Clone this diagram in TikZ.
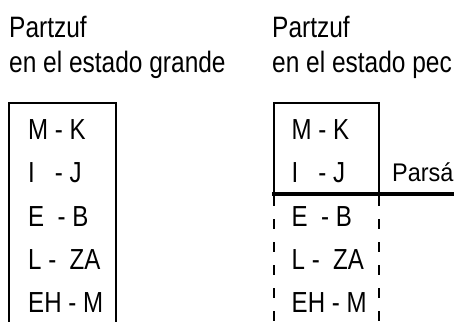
\documentclass[tikz,border=0pt]{standalone}
\usepackage{fontspec}
\setmainfont{Liberation Sans}
\newcommand{\nar}[1]{\scalebox{0.83}[1]{#1}}
\newcommand{\sd}[1]{\scalebox{0.92}[1]{#1}}
\begin{document}
\begin{tikzpicture}[x=1bp,y=-1bp,
  titletext/.style={anchor=base west,inner sep=0pt,font=\fontsize{29.5bp}{36bp}\selectfont},
  rowtext/.style={anchor=base west,inner sep=0pt,font=\fontsize{29bp}{34bp}\selectfont},
  sidetext/.style={anchor=base west,inner sep=0pt,font=\fontsize{25.5bp}{30bp}\selectfont},
  boxline/.style={line width=2bp},
  cutline/.style={line width=4bp},
  dashline/.style={line width=2bp,dash pattern=on 10bp off 13bp}]
\useasboundingbox (0,0) rectangle (454,321);
\clip (0,0) rectangle (454,321);
% titles
\node[titletext] (t1a) at (9,37.5) {\nar{Partzuf}};
\node[titletext] (t1b) at (9,72.7) {\nar{en el estado grande}};
\node[titletext] (t2a) at (272,37.5) {\nar{Partzuf}};
\node[titletext] (t2b) at (272,72.7) {\nar{en el estado pec}};
% left box
\draw[boxline] (9,330) -- (9,103.3) -- (115.7,103.3) -- (115.7,330);
\node[rowtext] (l1) at (28,139.5) {\nar{M - K}};
\node[rowtext] (l2) at (28,182.8) {\nar{I\ \ \ - J}};
\node[rowtext] (l3) at (28,226.1) {\nar{E\ \ - B}};
\node[rowtext] (l4) at (28,269.4) {\nar{L - \ ZA}};
\node[rowtext] (l5) at (28,312.7) {\nar{EH - M}};
% right box
\draw[boxline] (274,194) -- (274,103.3) -- (378.7,103.3) -- (378.7,194);
\draw[cutline] (272,194) -- (460,194);
\draw[dashline] (273.7,196) -- (273.7,330);
\draw[dashline] (378.9,196) -- (378.9,330);
\node[rowtext] (r1) at (291.5,139.5) {\nar{M - K}};
\node[rowtext] (r2) at (291.5,182.8) {\nar{I\ \ \ - J}};
\node[rowtext] (r3) at (291.5,226.1) {\nar{E\ \ - B}};
\node[rowtext] (r4) at (291.5,269.4) {\nar{L - \ ZA}};
\node[rowtext] (r5) at (291.5,312.7) {\nar{EH - M}};
\node[sidetext] (p) at (392,181) {\sd{Parsá}};
\end{tikzpicture}
\end{document}
